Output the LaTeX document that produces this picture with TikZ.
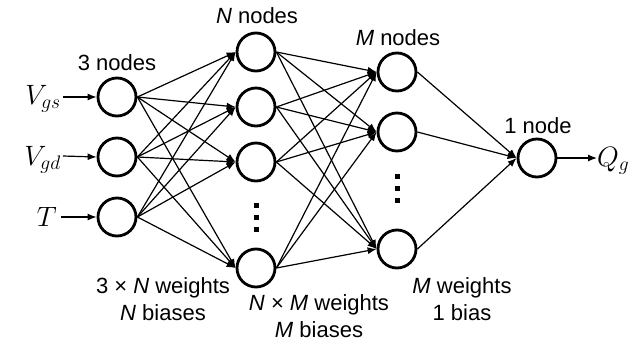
\RequirePackage{fix-cm}
\documentclass[tikz,border=0pt]{standalone}
\usepackage{fontspec}
\setmainfont{Liberation Sans}
\usetikzlibrary{arrows.meta}
\begin{document}
\begin{tikzpicture}[x=1pt,y=-1pt,
  neuron/.style={circle,draw,line width=2.8pt,minimum size=38pt,inner sep=0pt},
  link/.style={line width=1.2pt,-{Latex[length=9pt,width=7pt]}},
  lbl/.style={font=\fontsize{22}{25}\selectfont,inner sep=0pt,align=center},
  var/.style={font=\fontsize{28}{32}\selectfont,inner sep=0pt},
  vdot/.style={fill,inner sep=0pt,minimum width=5pt,minimum height=5pt}]
\useasboundingbox (0,0) rectangle (638,346);

% input layer
\node[neuron] (i1) at (117,97) {};
\node[neuron] (i2) at (117,157) {};
\node[neuron] (i3) at (117,217) {};
% first hidden layer
\node[neuron] (h1) at (256,52) {};
\node[neuron] (h2) at (256,107) {};
\node[neuron] (h3) at (256,162) {};
\node[neuron] (h4) at (256,268) {};
% second hidden layer
\node[neuron] (k1) at (397,72) {};
\node[neuron] (k2) at (397,132) {};
\node[neuron] (k3) at (397,249) {};
% output layer
\node[neuron] (o1) at (537,158) {};

% ellipsis dots
\node[vdot] (d1) at (256,205) {};
\node[vdot] (d2) at (256,217) {};
\node[vdot] (d3) at (256,229) {};
\node[vdot] (e1) at (397,176) {};
\node[vdot] (e2) at (397,188) {};
\node[vdot] (e3) at (397,200) {};

% connections
\foreach \s in {i1,i2,i3}
  \foreach \t in {h1,h2,h3,h4}
    \draw[link] (\s.east) -- (\t.west);
\foreach \s in {h1,h2,h3,h4}
  \foreach \t in {k1,k2,k3}
    \draw[link] (\s.east) -- (\t.west);
\foreach \s in {k1,k2,k3}
  \draw[link] (\s.east) -- (o1.west);

% inputs and output
\node[var,anchor=east] (vgs) at (61,99) {$V_{gs}$};
\node[var,anchor=east] (vgd) at (61,160) {$V_{gd}$};
\node[var,anchor=east] (tt) at (57,217) {$T$};
\node[var,anchor=west] (qg) at (597,161) {$Q_g$};
\draw[link] (vgs.east) ++(2,-2) coordinate (a1) (a1) -- (i1.west);
\draw[link] (vgd.east) ++(2,-4) coordinate (a2) (a2) -- (i2.west);
\draw[link] (tt.east) ++(4,0) coordinate (a3) (a3) -- (i3.west);
\draw[link] (o1.east) -- (qg.west |- o1.east);

% layer captions
\node[lbl] (c1) at (117,63) {3 nodes};
\node[lbl] (c2) at (257,16) {\textit{N} nodes};
\node[lbl] (c3) at (398,38) {\textit{M} nodes};
\node[lbl] (c4) at (538,126) {1 node};

% parameter counts
\node[lbl] (p1) at (163,299) {3 × \textit{N} weights\\[2pt]\textit{N} biases};
\node[lbl] (p2) at (319,316) {\textit{N} × \textit{M} weights\\[2pt]\textit{M} biases};
\node[lbl] (p3) at (462,299) {\textit{M} weights\\[2pt]1 bias};
\end{tikzpicture}
\end{document}
